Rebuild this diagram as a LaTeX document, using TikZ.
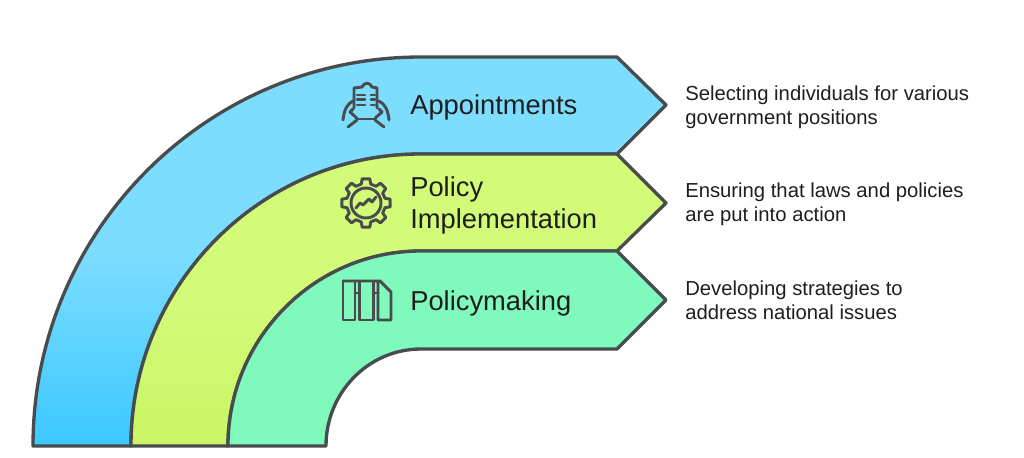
\documentclass[tikz,border=0pt]{standalone}
\usepackage{fontspec}
\setmainfont{Liberation Sans}
\definecolor{bandline}{HTML}{484C4E}
\definecolor{bluetop}{HTML}{7CDDFF}
\definecolor{bluelow}{HTML}{3CC8FF}
\definecolor{greentop}{HTML}{D2FB78}
\definecolor{greenlow}{HTML}{CAF565}
\definecolor{tealband}{HTML}{80F9BC}
\definecolor{inktext}{HTML}{1E1E1E}
\tikzset{
    band/.style={draw=bandline,line width=2.5pt,line join=round},
    icon/.style={draw=bandline,line width=2.2pt,line join=round,line cap=round},
    title/.style={anchor=west,inner sep=0pt,text=inktext,align=left,font=\fontsize{20.5}{24}\selectfont},
    detail/.style={anchor=west,inner sep=0pt,text=inktext,align=left,font=\fontsize{15.2}{18}\selectfont}
}
\begin{document}
\begin{tikzpicture}[x=0.75pt,y=-0.75pt]
    \useasboundingbox (0,0) rectangle (1024,457);

    % bands, outer one first
    \draw[band,top color=bluetop,bottom color=bluelow,middle color=bluetop]
        (33,446) arc[start angle=180,end angle=270,x radius=388,y radius=389]
        -- (617,57) -- (666,105) -- (617,154) -- (421,154)
        arc[start angle=270,end angle=180,x radius=290,y radius=292] -- cycle;
    \draw[band,top color=greentop,bottom color=greenlow,middle color=greentop]
        (131,446) arc[start angle=180,end angle=270,x radius=290,y radius=292]
        -- (617,154) -- (666,203) -- (617,251) -- (421,251)
        arc[start angle=270,end angle=180,x radius=193,y radius=195] -- cycle;
    \draw[band,fill=tealband]
        (228,446) arc[start angle=180,end angle=270,x radius=193,y radius=195]
        -- (617,251) -- (666,300) -- (617,349) -- (421,349)
        arc[start angle=270,end angle=180,x radius=95,y radius=97] -- cycle;

    % clipboard and hands
    \draw[icon] (354,108) -- (354,88) -- (362,87) .. controls (364,82) and (370,82) .. (372,87)
        -- (377,88) -- (377,108);
    \draw[icon] (357,119) -- (375,119);
    \foreach \y in {95,99.5,105} {
        \draw[icon] (357,\y) -- (365,\y);
        \draw[icon] (371,\y) -- (375,\y);
    }
    \foreach \m/\s in {0/1,732/-1} {
        \begin{scope}[xshift=\m*0.75pt,x=\s*0.75pt]
            \draw[icon] (343,120) .. controls (344,110) and (347,104) .. (353,101);
            \draw[icon] (353,109) -- (350,112) .. controls (352,115) and (356,116) .. (357,119);
            \draw[icon] (348,127) -- (357,120);
        \end{scope}
    }

    % gear with trend line
    \begin{scope}[shift={(366,203)}]
        \draw[icon] (-14:19.5) \foreach \a in {0,45,...,315} {
            -- (\a-14:19.5) -- (\a-9:24.5) -- (\a+9:24.5) -- (\a+14:19.5)
        } -- cycle;
        \draw[icon] (0,0) circle[radius=15];
        \draw[icon] (-10,5) -- (-6,0) -- (-3,2) -- (3,-4) -- (6,-1) -- (10,-6);
    \end{scope}

    % three bars
    \draw[icon] (343,281) -- (380,281) -- (391,292) -- (391,320) -- (378,320) -- (378,281);
    \draw[icon] (343,281) -- (343,320) -- (355,320) -- (355,281);
    \draw[icon] (359.5,281) -- (359.5,320) -- (373.5,320) -- (373.5,281);
    \draw[icon] (355,293) -- (359.5,293) (373.5,293) -- (378,293);

    % labels
    \node[title] (appointments) at (410,107) {Appointments};
    \node[title] (implementation) at (410,205) {Policy\\Implementation};
    \node[title] (policymaking) at (410,303) {Policymaking};

    \node[detail] (selecting) at (685,107) {Selecting individuals for various\\government positions};
    \node[detail] (ensuring) at (685,204) {Ensuring that laws and policies\\are put into action};
    \node[detail] (developing) at (685,300) {Developing strategies to\\address national issues};
\end{tikzpicture}
\end{document}
